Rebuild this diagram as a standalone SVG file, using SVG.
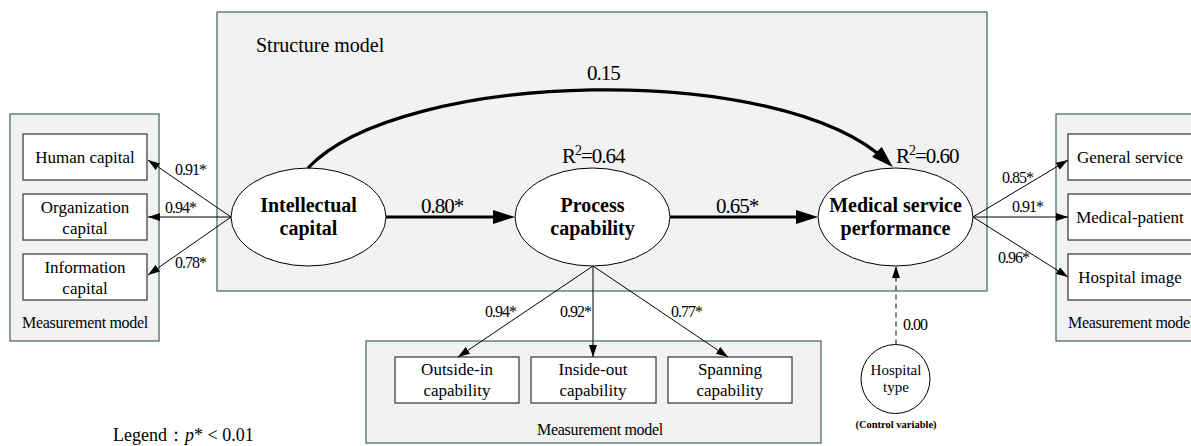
<svg xmlns="http://www.w3.org/2000/svg" width="1191" height="446" viewBox="0 0 1191 446">
<style>
text{font-family:"Liberation Serif","Times New Roman",serif;fill:#000}
.panel{fill:#f2f2f2;stroke:#3d6650;stroke-width:1.2}
.box{fill:#fff;stroke:#333;stroke-width:1.2}
.ell{fill:#fff;stroke:#000;stroke-width:1}
.bt{font-size:17px;text-anchor:middle}
.lat{font-size:20px;font-weight:bold;text-anchor:middle}
.coef{font-size:16px;letter-spacing:-1px}
.big{font-size:21px;letter-spacing:-1px}
.mm{font-size:16px;letter-spacing:-0.3px;text-anchor:middle}
.thin{stroke:#000;stroke-width:1;fill:none;marker-end:url(#ah)}
.thick{stroke:#000;stroke-width:3.2;fill:none;marker-end:url(#ahb)}
</style>
<defs>
<marker id="ah" markerUnits="userSpaceOnUse" markerWidth="12" markerHeight="8" refX="12" refY="4" orient="auto"><path d="M0,0 L12,4 L0,8 z" fill="#000"/></marker>
<marker id="ahb" markerUnits="userSpaceOnUse" markerWidth="22" markerHeight="14" refX="14" refY="7" orient="auto"><path d="M0,0 L22,7 L0,14 z" fill="#000"/></marker>
</defs>

<g id="structure-panel">
<rect class="panel" x="217" y="12" width="770" height="279"/>
<text x="256" y="52" font-size="20">Structure model</text>
</g>
<g id="measurement-left">
<rect class="panel" x="10" y="114" width="149" height="227"/>
<text class="mm" x="85" y="328">Measurement model</text>
</g>
<g id="measurement-right">
<rect class="panel" x="1056" y="114" width="150" height="227"/>
<text x="1068" y="328" font-size="16" letter-spacing="-0.3">Measurement model</text>
</g>
<g id="measurement-bottom">
<rect class="panel" x="366" y="341" width="455" height="102"/>
<text class="mm" x="600" y="435">Measurement model</text>
</g>

<g id="human-capital"><rect class="box" x="23" y="134" width="124" height="46"/><text class="bt" x="85" y="163">Human capital</text></g>
<g id="organization-capital"><rect class="box" x="23" y="194" width="124" height="46"/><text class="bt" x="85" y="213">Organization</text><text class="bt" x="85" y="234">capital</text></g>
<g id="information-capital"><rect class="box" x="23" y="254" width="124" height="46"/><text class="bt" x="85" y="273">Information</text><text class="bt" x="85" y="294">capital</text></g>

<g id="general-service"><rect class="box" x="1068" y="134" width="124" height="46"/><text class="bt" x="1130" y="163">General service</text></g>
<g id="medical-patient"><rect class="box" x="1068" y="194" width="124" height="46"/><text class="bt" x="1130" y="223">Medical-patient</text></g>
<g id="hospital-image"><rect class="box" x="1068" y="254" width="124" height="46"/><text class="bt" x="1130" y="283">Hospital image</text></g>

<g id="outside-in"><rect class="box" x="395" y="357" width="124" height="46"/><text class="bt" x="457" y="375">Outside-in</text><text class="bt" x="457" y="396">capability</text></g>
<g id="inside-out"><rect class="box" x="531" y="357" width="125" height="46"/><text class="bt" x="593" y="375">Inside-out</text><text class="bt" x="593" y="396">capability</text></g>
<g id="spanning"><rect class="box" x="668" y="357" width="124" height="46"/><text class="bt" x="730" y="375">Spanning</text><text class="bt" x="730" y="396">capability</text></g>

<g id="intellectual-capital"><ellipse class="ell" cx="308.5" cy="217" rx="77.5" ry="49"/><text class="lat" x="308.5" y="212">Intellectual</text><text class="lat" x="308.5" y="235">capital</text></g>
<g id="process-capability"><ellipse class="ell" cx="592.5" cy="217" rx="77.5" ry="49"/><text class="lat" x="592.5" y="212">Process</text><text class="lat" x="592.5" y="235">capability</text></g>
<g id="medical-service-performance"><ellipse class="ell" cx="895.5" cy="217" rx="77.5" ry="49"/><text class="lat" x="895.5" y="212">Medical service</text><text class="lat" x="895.5" y="235">performance</text></g>
<g id="hospital-type"><circle class="ell" cx="895.5" cy="379" r="34.5"/><text x="896" y="375" font-size="15" text-anchor="middle">Hospital</text><text x="896" y="392" font-size="15" text-anchor="middle">type</text><text x="896" y="428" font-size="10.5" font-weight="bold" text-anchor="middle">(Control variable)</text></g>

<g id="connectors">
<path class="thick" d="M308,168 C400,70 780,60 887,161.5"/>
<path class="thick" d="M386,217 L507,217"/>
<path class="thick" d="M670,217 L810,217"/>
<path class="thin" d="M231,217 L148,160"/>
<path class="thin" d="M231,217 L148,217"/>
<path class="thin" d="M231,217 L148,275"/>
<path class="thin" d="M973,217 L1068,160"/>
<path class="thin" d="M973,217 L1068,217"/>
<path class="thin" d="M973,217 L1068,277"/>
<path class="thin" d="M593,266 L458,357"/>
<path class="thin" d="M593,266 L593,357"/>
<path class="thin" d="M593,266 L728,357"/>
<path class="thin" d="M896,344.5 L896,266" stroke-dasharray="5,4"/>
</g>

<g id="labels">
<text class="big" x="587" y="80">0.15</text>
<text class="big" x="421" y="213">0.80*</text>
<text class="big" x="716" y="213">0.65*</text>
<text class="big" x="562" y="163">R<tspan font-size="14" dy="-8">2</tspan><tspan dy="8">=0.64</tspan></text>
<text class="big" x="896" y="163">R<tspan font-size="14" dy="-8">2</tspan><tspan dy="8">=0.60</tspan></text>
<text class="coef" x="175" y="175">0.91*</text>
<text class="coef" x="165" y="213">0.94*</text>
<text class="coef" x="175" y="268">0.78*</text>
<text class="coef" x="1002" y="183">0.85*</text>
<text class="coef" x="1012" y="212">0.91*</text>
<text class="coef" x="998" y="263">0.96*</text>
<text class="coef" x="485" y="317">0.94*</text>
<text class="coef" x="560" y="317">0.92*</text>
<text class="coef" x="671" y="317">0.77*</text>
<text class="coef" x="903" y="330">0.00</text>
<text x="113" y="441" font-size="18">Legend：<tspan font-style="italic">p</tspan>* &lt; 0.01</text>
</g>
</svg>
